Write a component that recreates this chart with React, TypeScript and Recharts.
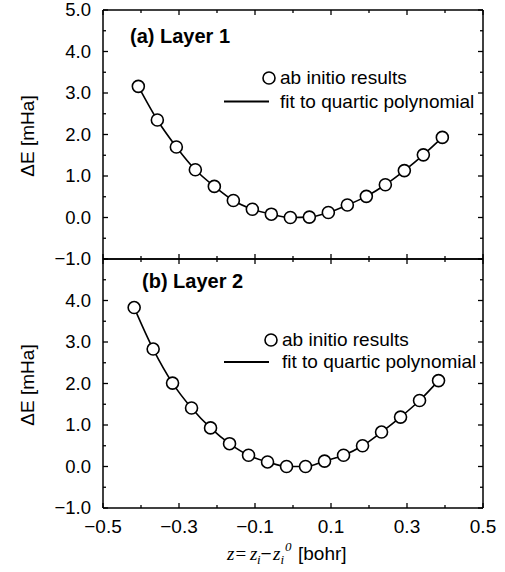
import { LineChart, Line, XAxis, YAxis } from "recharts";

// displacement z (bohr) and energy change (mHa)
const zLayer1 = [
  -0.407, -0.357, -0.307, -0.257, -0.207, -0.157, -0.107, -0.057, -0.007,
  0.043, 0.093, 0.143, 0.193, 0.243, 0.293, 0.343, 0.393,
];
const eLayer1 = [
  3.16, 2.35, 1.7, 1.15, 0.75, 0.41, 0.2, 0.08, 0.0, 0.01, 0.12, 0.3, 0.51,
  0.79, 1.13, 1.51, 1.93,
];
const zLayer2 = [
  -0.418, -0.368, -0.317, -0.267, -0.217, -0.167, -0.117, -0.067, -0.017,
  0.033, 0.083, 0.133, 0.183, 0.233, 0.283, 0.333, 0.383,
];
const eLayer2 = [
  3.83, 2.83, 2.01, 1.41, 0.93, 0.55, 0.27, 0.11, 0.0, 0.0, 0.13, 0.27, 0.5,
  0.83, 1.19, 1.59, 2.07,
];

const xMajor = [-0.5, -0.3, -0.1, 0.1, 0.3, 0.5];
const xMinor = [-0.4, -0.2, 0, 0.2, 0.4];
const yMajor = [-1, 0, 1, 2, 3, 4, 5];
const yMinor = [-0.5, 0.5, 1.5, 2.5, 3.5, 4.5];

const xTicks = [...xMajor, ...xMinor].sort((a, b) => a - b);
const yTicks = [...yMajor, ...yMinor].sort((a, b) => a - b);

const FONT = "'Liberation Sans', Arial, sans-serif";
const SERIF = "'Liberation Serif', 'Times New Roman', serif";
const MAJOR_LEN = 5;
const MINOR_LEN = 3;

const isMajor = (v: number, majors: number[]) =>
  majors.some((m) => Math.abs(m - v) < 1e-6);

const fmt = (v: number) => v.toFixed(1).replace("-", "\u2212");

type TickProps = {
  x?: number;
  y?: number;
  payload?: { value: number };
  showLabel?: boolean;
  hide?: number[];
};

function BottomTick({ x = 0, y = 0, payload, showLabel }: TickProps) {
  const v = payload?.value ?? 0;
  const major = isMajor(v, xMajor);
  return (
    <g>
      <line
        x1={x}
        x2={x}
        y1={y}
        y2={y - (major ? MAJOR_LEN : MINOR_LEN)}
        stroke="#000"
        strokeWidth={1.3}
      />
      {showLabel && major && (
        <text
          x={x}
          y={y + 25}
          textAnchor="middle"
          fontSize={19}
          fontFamily={FONT}
          fill="#000"
        >
          {fmt(v)}
        </text>
      )}
    </g>
  );
}

function TopTick({ x = 0, y = 0, payload }: TickProps) {
  const v = payload?.value ?? 0;
  const major = isMajor(v, xMajor);
  return (
    <line
      x1={x}
      x2={x}
      y1={y}
      y2={y + (major ? MAJOR_LEN : MINOR_LEN)}
      stroke="#000"
      strokeWidth={1.3}
    />
  );
}

function LeftTick({ x = 0, y = 0, payload, hide = [] }: TickProps) {
  const v = payload?.value ?? 0;
  const major = isMajor(v, yMajor);
  return (
    <g>
      <line
        x1={x}
        x2={x + (major ? MAJOR_LEN : MINOR_LEN)}
        y1={y}
        y2={y}
        stroke="#000"
        strokeWidth={1.3}
      />
      {major && !isMajor(v, hide) && (
        <text
          x={x - 12}
          y={y}
          dy="0.35em"
          textAnchor="end"
          fontSize={18.5}
          fontFamily={FONT}
          fill="#000"
        >
          {fmt(v)}
        </text>
      )}
    </g>
  );
}

function RightTick({ x = 0, y = 0, payload }: TickProps) {
  const v = payload?.value ?? 0;
  const major = isMajor(v, yMajor);
  return (
    <line
      x1={x}
      x2={x - (major ? MAJOR_LEN : MINOR_LEN)}
      y1={y}
      y2={y}
      stroke="#000"
      strokeWidth={1.3}
    />
  );
}

const axisLine = { stroke: "#000", strokeWidth: 1.5 };

function Dot(props: { cx?: number; cy?: number; index?: number }) {
  const { cx, cy, index } = props;
  if (cx == null || cy == null) return <g key={index} />;
  return (
    <circle
      key={index}
      cx={cx}
      cy={cy}
      r={6}
      fill="#fff"
      stroke="#000"
      strokeWidth={1.6}
    />
  );
}

interface PanelProps {
  data: { z: number; e: number }[];
  top: number;
  height: number;
  marginBottom: number;
  showXLabels: boolean;
  hideY: number[];
}

function Panel({ data, top, height, marginBottom, showXLabels, hideY }: PanelProps) {
  return (
    <div style={{ position: "absolute", left: 0, top }}>
      <LineChart
        width={505}
        height={height}
        data={data}
        margin={{ top: 9, right: 21, bottom: marginBottom, left: 0 }}
      >
        <XAxis
          dataKey="z"
          type="number"
          domain={[-0.5, 0.5]}
          allowDataOverflow
          ticks={xTicks}
          interval={0}
          height={1}
          tickSize={0}
          tickMargin={0}
          tickLine={false}
          axisLine={axisLine}
          tick={<BottomTick showLabel={showXLabels} />}
        />
        <XAxis
          xAxisId="top"
          orientation="top"
          dataKey="z"
          type="number"
          domain={[-0.5, 0.5]}
          allowDataOverflow
          ticks={xTicks}
          interval={0}
          height={1}
          tickSize={0}
          tickMargin={0}
          tickLine={false}
          axisLine={axisLine}
          tick={<TopTick />}
        />
        <YAxis
          type="number"
          domain={[-1, 5]}
          allowDataOverflow
          ticks={yTicks}
          interval={0}
          width={103}
          tickSize={0}
          tickMargin={0}
          tickLine={false}
          axisLine={axisLine}
          tick={<LeftTick hide={hideY} />}
        />
        <YAxis
          yAxisId="right"
          orientation="right"
          type="number"
          domain={[-1, 5]}
          allowDataOverflow
          ticks={yTicks}
          interval={0}
          width={1}
          tickSize={0}
          tickMargin={0}
          tickLine={false}
          axisLine={axisLine}
          tick={<RightTick />}
        />
        <Line
          type="monotone"
          dataKey="e"
          stroke="#000"
          strokeWidth={1.6}
          dot={<Dot />}
          activeDot={false}
          isAnimationActive={false}
        />
      </LineChart>
    </div>
  );
}

const textStyle = { fontFamily: FONT, fill: "#000" };

function Legend({ cy, lineY, x }: { cy: number; lineY: number; x: number }) {
  return (
    <g>
      <circle cx={x - 11} cy={cy} r={6} fill="none" stroke="#000" strokeWidth={1.6} />
      <text x={x} y={cy + 5.5} fontSize={19} style={textStyle}>
        ab initio results
      </text>
      <line x1={224} x2={269} y1={lineY} y2={lineY} stroke="#000" strokeWidth={2} />
      <text x={x} y={lineY + 6} fontSize={19} style={textStyle}>
        fit to quartic polynomial
      </text>
    </g>
  );
}

export default function App() {
  const layer1 = zLayer1.map((z, i) => ({ z, e: eLayer1[i] }));
  const layer2 = zLayer2.map((z, i) => ({ z, e: eLayer2[i] }));

  return (
    <div
      style={{
        position: "absolute",
        left: 0,
        top: 0,
        width: 505,
        height: 572,
        background: "#fff",
        overflow: "hidden",
      }}
    >
      <Panel
        data={layer1}
        top={0}
        height={270}
        marginBottom={10}
        showXLabels={false}
        hideY={[]}
      />
      <Panel
        data={layer2}
        top={249}
        height={323}
        marginBottom={63}
        showXLabels={true}
        hideY={[5]}
      />
      <svg
        width={505}
        height={572}
        style={{ position: "absolute", left: 0, top: 0, pointerEvents: "none" }}
      >
        <text x={130} y={43} fontSize={20} fontWeight="bold" style={textStyle}>
          (a) Layer 1
        </text>
        <text x={142} y={288} fontSize={20} fontWeight="bold" style={textStyle}>
          (b) Layer 2
        </text>
        <Legend cy={78} lineY={101.5} x={280} />
        <Legend cy={340} lineY={362} x={282} />
        <text
          transform="translate(34,136) rotate(-90)"
          textAnchor="middle"
          fontSize={19}
          style={textStyle}
        >
          ΔE [mHa]
        </text>
        <text
          transform="translate(34,385) rotate(-90)"
          textAnchor="middle"
          fontSize={19}
          style={textStyle}
        >
          ΔE [mHa]
        </text>
        <text y={560} fontSize={19} style={textStyle}>
          <tspan x={227} fontFamily={SERIF} fontStyle="italic">z</tspan>
          <tspan x={235.5} fontFamily={SERIF}>=</tspan>
          <tspan x={250} fontFamily={SERIF} fontStyle="italic">z</tspan>
          <tspan x={257} fontFamily={SERIF} fontStyle="italic" fontSize={13} dy={4}>i</tspan>
          <tspan x={260.5} dy={-4}>{"\u2212"}</tspan>
          <tspan x={273} fontFamily={SERIF} fontStyle="italic">z</tspan>
          <tspan x={280.5} fontFamily={SERIF} fontStyle="italic" fontSize={13} dy={4}>i</tspan>
          <tspan x={285} fontFamily={SERIF} fontStyle="italic" fontSize={13} dy={-13}>0</tspan>
          <tspan x={298} dy={9}>[bohr]</tspan>
        </text>
      </svg>
    </div>
  );
}
